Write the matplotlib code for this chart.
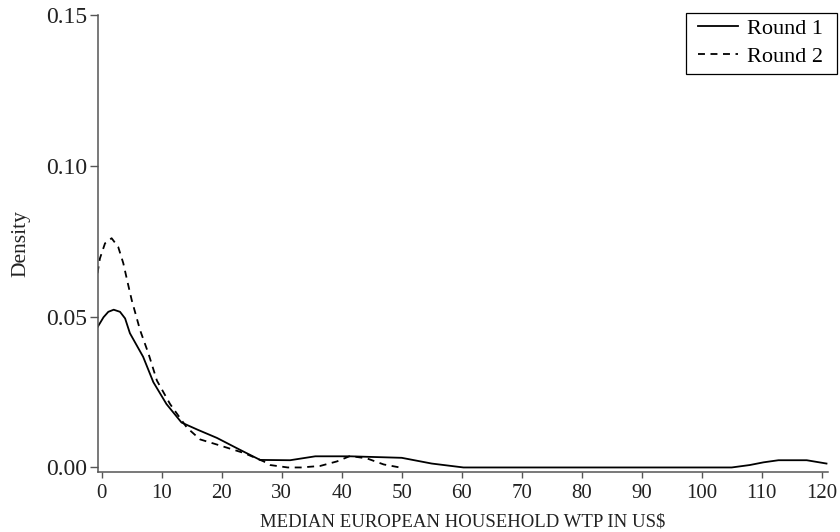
import matplotlib
matplotlib.use("Agg")
import matplotlib.pyplot as plt
from matplotlib.patches import Rectangle

# values (x in US$, y density)
round1_x = [-0.7, 0.3, 1.1, 2.0, 3.05, 3.9, 4.7, 6.9, 8.6, 10.8, 13.3, 16.0, 19.2,
            23.0, 26.4, 31.4, 35.6, 41.4, 50.0, 55.0, 60.3, 105.0, 108.0, 110.3,
            112.8, 117.5, 120.8]
round1_y = [0.0465, 0.0498, 0.0516, 0.0523, 0.0516, 0.0494, 0.0445, 0.0367, 0.0283,
            0.021, 0.0149, 0.0125, 0.0098, 0.0059, 0.0025, 0.0024, 0.0037, 0.0037,
            0.0032, 0.0013, 0.0, 0.0, 0.0008, 0.0017, 0.0024, 0.0024, 0.0013]

round2_x = [-0.7, -0.3, 0.55, 1.65, 2.75, 3.6, 4.3, 5.0, 6.4, 7.8, 9.2, 11.4, 14.2,
            16.4, 19.2, 23.7, 27.0, 28.1, 31.0, 33.2, 36.4, 39.2, 41.4, 44.2, 47.0,
            49.7]
round2_y = [0.0644, 0.0693, 0.0743, 0.076, 0.0731, 0.0677, 0.0615, 0.0555, 0.0455,
            0.0377, 0.0288, 0.021, 0.0132, 0.0093, 0.0076, 0.0048, 0.002, 0.0008,
            0.0, 0.0, 0.0005, 0.002, 0.0038, 0.003, 0.001, 0.0]

x_ticks = list(range(0, 121, 10))
y_ticks = [0.0, 0.05, 0.10, 0.15]

plt.rcParams['font.family'] = ['Liberation Serif', 'DejaVu Serif']
plt.rcParams['lines.scale_dashes'] = False

W, H = 840, 532
fig = plt.figure(figsize=(8.4, 5.32), dpi=100)
ax = fig.add_axes([0.1163, 0.1128, 0.8694, 0.859])

ax.plot(round1_x, round1_y, color='black', lw=1.3, label='Round 1')
ax.plot(round2_x, round2_y, color='black', lw=1.3, dashes=(5, 4), label='Round 2')

ax.set_xlim(-0.67, 121.05)
ax.set_ylim(-0.0015, 0.15)
ax.set_xticks(x_ticks)
ax.set_yticks(y_ticks)
ax.set_yticklabels([f"{v:.2f}" for v in y_ticks])

for side in ['top', 'right']:
    ax.spines[side].set_visible(False)
for side in ['left', 'bottom']:
    ax.spines[side].set_color('#555555')
    ax.spines[side].set_linewidth(1.1)
ax.tick_params(direction='out', width=1.0, color='#555555', labelcolor='#222222')
ax.tick_params(axis='x', labelsize=15, length=4.5, pad=4)
ax.tick_params(axis='y', labelsize=17, length=5.5, pad=2)

ax.set_xlabel('MEDIAN EUROPEAN HOUSEHOLD WTP IN US$', fontsize=13.5, color='#222222', labelpad=8)
ax.set_ylabel('Density', fontsize=15.5, color='#222222', labelpad=11)

# legend entries without frame, frame drawn as a box like the original
leg = fig.legend(loc='upper left', bbox_to_anchor=(698 / W, 1 - 18 / H),
                 fontsize=16, frameon=False, handlelength=1.8, borderpad=0,
                 labelspacing=0.36, handletextpad=0.4, borderaxespad=0)
fig.patches.append(Rectangle((686 / W, 1 - 74 / H), 151 / W, 61.3 / H,
                             transform=fig.transFigure, fill=False,
                             edgecolor='black', linewidth=0.9))

fig.savefig('out.png', dpi=100)
